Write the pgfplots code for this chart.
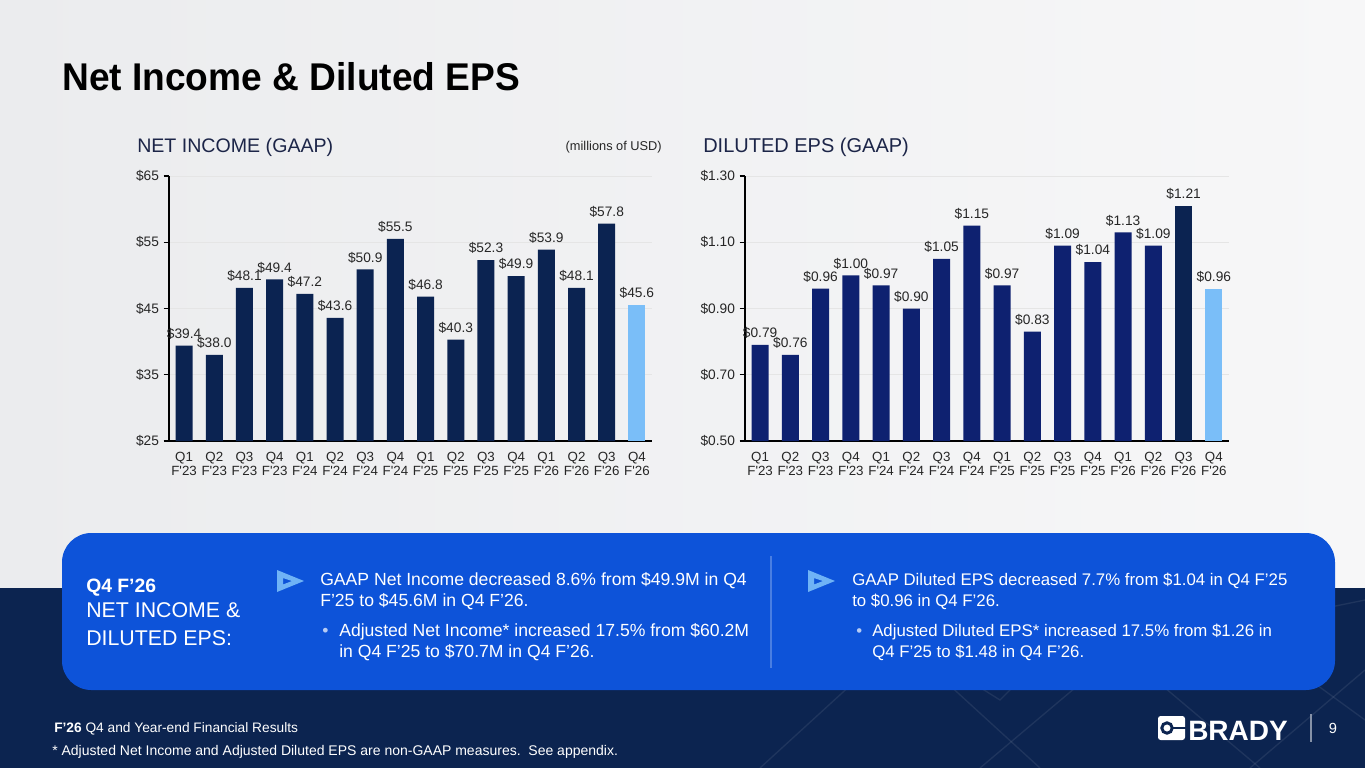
\documentclass[border=0pt]{standalone}
\usepackage{pgfplots}
\pgfplotsset{compat=1.18}
\usepackage{fontspec}
\setmainfont{Liberation Sans}
\definecolor{navybg}{HTML}{0C2450}
\definecolor{boxblue}{HTML}{0D53D9}
\definecolor{nibar}{HTML}{0B2351}
\definecolor{epsbar}{HTML}{0E2170}
\definecolor{lightbar}{HTML}{7ABEF8}
\definecolor{arrowblue}{HTML}{6FB3F6}
\definecolor{sectitle}{HTML}{1C2548}
\definecolor{labtext}{HTML}{262626}
\definecolor{bgL}{HTML}{EBECEE}
\definecolor{bgR}{HTML}{F7F7F8}
\newcommand{\q}{\textquotesingle}
\newcommand{\fsz}[1]{\fontsize{#1}{#1}\selectfont}
\pgfplotsset{
  brady/.style={
    scale only axis, anchor=south west,
    width=362.25pt, height=198.75pt,
    xmin=-0.5, xmax=15.5,
    ybar, bar width=12.75pt, bar shift=0pt,
    axis x line*=bottom, axis y line*=left,
    axis line style={line width=1.2pt, black},
    ymajorgrids, grid style={black!10, line width=0.5pt},
    xtick={0,...,15},
    xticklabels={{Q1\\F\q23},{Q2\\F\q23},{Q3\\F\q23},{Q4\\F\q23},{Q1\\F\q24},{Q2\\F\q24},{Q3\\F\q24},{Q4\\F\q24},{Q1\\F\q25},{Q2\\F\q25},{Q3\\F\q25},{Q4\\F\q25},{Q1\\F\q26},{Q2\\F\q26},{Q3\\F\q26},{Q4\\F\q26}},
    xticklabel style={align=center, font=\fsz{10pt}, text=labtext, yshift=-1pt},
    yticklabel style={font=\fsz{10.3pt}, text=labtext},
    major x tick style={draw=none},
    extra x ticks={-0.5,0.5,...,15.5}, extra x tick labels={},
    extra x tick style={major tick length=5pt, tick style={draw=black, line width=1pt}, grid=none},
    tick align=outside,
    major y tick style={draw=black, line width=1pt},
    major tick length=4pt,
    /pgf/number format/assume math mode=true,
    nodes near coords style={font=\fsz{10.3pt}, text=labtext, inner sep=2pt, yshift=2.5pt},
  }
}
\begin{document}
\begin{tikzpicture}
\begin{scope}[x=0.75pt, y=-0.75pt]
\useasboundingbox (0,0) rectangle (1365,768);
% backgrounds
\shade[left color=bgL, right color=bgR] (0,0) rectangle (1365,590);
\fill[navybg] (0,588) rectangle (1365,768);
\begin{scope}[draw=white, opacity=0.08, line width=1pt]
\draw (760,768) -- (900,640) -- (1040,768);
\draw (900,640) -- (1000,588);
\draw (980,768) -- (1120,650) -- (1260,768);
\draw (1120,650) -- (1365,600);
\draw (1200,600) -- (1365,720);
\draw (840,600) -- (1000,700) -- (1100,600);
\draw (1250,768) -- (1365,670);
\end{scope}
% title
\node[anchor=base west, inner sep=0, text=black] at (62,90) {\scalebox{0.96}[1]{\fsz{29pt}\bfseries Net Income \& Diluted EPS}};
\node[anchor=base west, inner sep=0, text=sectitle] at (137,152) {\fsz{14.7pt}NET INCOME (GAAP)};
\node[anchor=base east, inner sep=0, text=labtext] at (662,150) {\fsz{9.6pt}(millions of USD)};
\node[anchor=base west, inner sep=0, text=sectitle] at (703,152) {\fsz{15pt}DILUTED EPS (GAAP)};
\end{scope}
% left chart
\begin{axis}[brady, at={(126.75pt,-330.75pt)}, ymin=25, ymax=65,
  ytick={25,35,45,55,65},
  yticklabel={\$\pgfmathprintnumber{\tick}},
  nodes near coords={\$\pgfmathprintnumber[fixed,fixed zerofill,precision=1]{\pgfplotspointmeta}}]
\addplot[fill=nibar, draw=none] coordinates {(0,39.4) (1,38.0) (2,48.1) (3,49.4) (4,47.2) (5,43.6) (6,50.9) (7,55.5) (8,46.8) (9,40.3) (10,52.3) (11,49.9) (12,53.9) (13,48.1) (14,57.8)};
\addplot[fill=lightbar, draw=none] coordinates {(15,45.6)};
\end{axis}
% right chart
\begin{axis}[brady, at={(558.75pt,-330.75pt)}, width=363pt, ymin=0.5, ymax=1.3,
  ytick={0.5,0.7,0.9,1.1,1.3},
  yticklabel={\$\pgfmathprintnumber[fixed,fixed zerofill,precision=2]{\tick}},
  nodes near coords={\$\pgfmathprintnumber[fixed,fixed zerofill,precision=2]{\pgfplotspointmeta}}]
\addplot[fill=epsbar, draw=none] coordinates {(0,0.79) (1,0.76) (2,0.96) (3,1.00) (4,0.97) (5,0.90) (6,1.05) (7,1.15) (8,0.97) (9,0.83) (10,1.09) (11,1.04) (12,1.13) (13,1.09)};
\addplot[fill=nibar, draw=none] coordinates {(14,1.21)};
\addplot[fill=lightbar, draw=none] coordinates {(15,0.96)};
\end{axis}
\begin{scope}[x=0.75pt, y=-0.75pt]
% blue box
\fill[boxblue, rounded corners=22pt] (62,533) rectangle (1335,690);
\node[anchor=base west, inner sep=0, text=white] at (86,592) {\fsz{14.5pt}\bfseries Q4 F’26};
\node[anchor=base west, inner sep=0, text=white] at (86,617) {\fsz{16pt}NET INCOME \&};
\node[anchor=base west, inner sep=0, text=white] at (86,645) {\fsz{16pt}DILUTED EPS:};
\fill[arrowblue, even odd rule] (277,570) -- (304,581) -- (277,592) -- cycle (283,578) -- (292,581) -- (283,584.5) -- cycle;
\fill[arrowblue, even odd rule] (808,570) -- (835,581) -- (808,592) -- cycle (814,578) -- (823,581) -- (814,584.5) -- cycle;
\draw[color=white, opacity=0.25, line width=1pt] (771,556) -- (771,668);
\begin{scope}[every node/.style={anchor=base west, inner sep=0, text=white, font=\fsz{13.2pt}}]
\node at (320,585) {GAAP Net Income decreased 8.6\% from \$49.9M in Q4};
\node at (320,606) {F’25 to \$45.6M in Q4 F’26.};
\node[text=white!70!boxblue] at (322,636) {•};
\node at (339,636) {Adjusted Net Income* increased 17.5\% from \$60.2M};
\node at (339,657) {in Q4 F’25 to \$70.7M in Q4 F’26.};
\end{scope}
\begin{scope}[every node/.style={anchor=base west, inner sep=0, text=white, font=\fsz{12.6pt}}]
\node at (852,585) {GAAP Diluted EPS decreased 7.7\% from \$1.04 in Q4 F’25};
\node at (852,606) {to \$0.96 in Q4 F’26.};
\node[text=white!70!boxblue] at (856,636) {•};
\node at (872,636) {Adjusted Diluted EPS* increased 17.5\% from \$1.26 in};
\node at (872,657) {Q4 F’25 to \$1.48 in Q4 F’26.};
\end{scope}
% footer
\node[anchor=base west, inner sep=0, text=white] at (54,732) {\fsz{10.3pt}\textbf{F’26} Q4 and Year-end Financial Results};
\node[anchor=base west, inner sep=0, text=white] at (52,755) {\fsz{10.5pt}* Adjusted Net Income and Adjusted Diluted EPS are non-GAAP measures.\ \ See appendix.};
% logo
\fill[white, rounded corners=2pt] (1158,716) rectangle (1185,740);
\draw[navybg, line width=2.2pt] (1167,728) circle (5.2);
\draw[navybg, line width=2.2pt] (1172.5,728) -- (1186,728);
\node[anchor=base west, inner sep=0, text=white] at (1188,740) {\fsz{21pt}\bfseries BRADY};
\draw[white!50!navybg, line width=0.8pt] (1311,714) -- (1311,742);
\node[anchor=base, inner sep=0, text=white] at (1333,733) {\fsz{11pt}9};
\end{scope}
\end{tikzpicture}
\end{document}
